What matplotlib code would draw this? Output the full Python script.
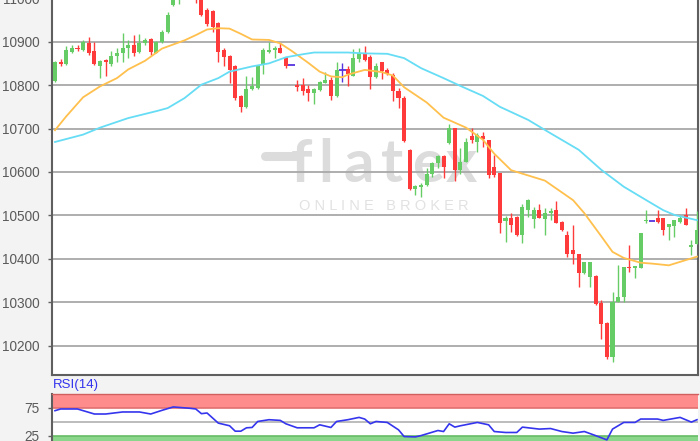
import matplotlib
matplotlib.use('Agg')
import matplotlib.pyplot as plt
from matplotlib.lines import Line2D
import numpy as np

# ---------------- data ----------------
opens = [10810, 10854, 10848, 10877, 10886, 10881, 10896, 10879, 10845, 10858,
         10848, 10866, 10873, 10885, 10892, 10877, 10898, 10905, 10875, 10900,
         10923, 10985, 11010, 11030, 11045, 11020, 11000, 10972, 10970, 10943,
         10881, 10866, 10843, 10776, 10750, 10790, 10793, 10847, 10877, 10881,
         10885, 10864, 10847, 10800, 10800, 10790, 10782, 10788, 10805, 10812,
         10774, 10834, 10837, 10821, 10860, 10873, 10864, 10818, 10854, 10835,
         10824, 10786, 10771, 10651, 10560, 10565, 10570, 10595, 10620, 10637,
         10666, 10701, 10605, 10622, 10682, 10670, 10682, 10674, 10612, 10597,
         10488, 10493, 10497, 10455, 10512, 10491, 10512, 10491, 10506, 10512,
         10485, 10455, 10420, 10411, 10368, 10358, 10360, 10298, 10252, 10175,
         10301, 10311, 10382, 10378, 10378, 10486, 10488, 10493, 10493, 10474,
         10475, 10485, 10501, 10428, 10435]
highs = [10856, 10860, 10889, 10892, 10892, 10904, 10910, 10900, 10858, 10860,
         10879, 10885, 10919, 10904, 10915, 10917, 10908, 10908, 10902, 10927,
         10969, 11025, 11040, 11060, 11060, 11030, 11005, 10977, 10974, 10946,
         10885, 10870, 10846, 10778, 10820, 10818, 10847, 10885, 10900, 10889,
         10896, 10864, 10847, 10812, 10816, 10801, 10793, 10809, 10829, 10818,
         10854, 10850, 10843, 10882, 10885, 10889, 10869, 10851, 10854, 10839,
         10827, 10793, 10775, 10653, 10570, 10574, 10608, 10622, 10639, 10639,
         10711, 10701, 10655, 10678, 10701, 10689, 10693, 10674, 10640, 10597,
         10498, 10506, 10498, 10526, 10537, 10520, 10526, 10518, 10518, 10532,
         10486, 10465, 10478, 10411, 10393, 10393, 10362, 10305, 10254, 10324,
         10385, 10382, 10432, 10384, 10459, 10512, 10488, 10512, 10493, 10481,
         10489, 10501, 10518, 10443, 10509]
lows = [10808, 10844, 10846, 10875, 10878, 10879, 10869, 10847, 10816, 10821,
        10843, 10854, 10854, 10862, 10866, 10875, 10892, 10869, 10873, 10898,
        10921, 10981, 10986, 11010, 11005, 10990, 10958, 10936, 10923, 10854,
        10843, 10805, 10766, 10737, 10747, 10788, 10790, 10826, 10873, 10862,
        10873, 10839, 10847, 10786, 10778, 10763, 10757, 10786, 10805, 10765,
        10772, 10808, 10798, 10821, 10854, 10856, 10790, 10816, 10813, 10824,
        10763, 10747, 10670, 10559, 10547, 10542, 10568, 10588, 10608, 10585,
        10665, 10580, 10595, 10622, 10666, 10647, 10658, 10585, 10589, 10460,
        10439, 10462, 10452, 10437, 10497, 10472, 10493, 10455, 10489, 10482,
        10465, 10405, 10389, 10335, 10365, 10334, 10293, 10216, 10170, 10162,
        10301, 10301, 10370, 10355, 10378, 10482, 10488, 10482, 10455, 10443,
        10451, 10482, 10478, 10409, 10435]
closes = [10854, 10849, 10881, 10886, 10883, 10900, 10875, 10849, 10856, 10852,
          10867, 10875, 10886, 10892, 10875, 10898, 10904, 10877, 10900, 10923,
          10961, 11015, 11030, 11045, 11020, 10995, 10961, 10940, 10934, 10877,
          10864, 10835, 10770, 10750, 10791, 10797, 10847, 10881, 10881, 10886,
          10875, 10843, 10847, 10795, 10786, 10782, 10791, 10806, 10812, 10774,
          10835, 10834, 10826, 10862, 10873, 10858, 10818, 10843, 10832, 10826,
          10786, 10770, 10672, 10560, 10567, 10570, 10595, 10620, 10637, 10612,
          10701, 10605, 10624, 10670, 10674, 10685, 10676, 10593, 10593, 10483,
          10493, 10478, 10455, 10520, 10535, 10512, 10493, 10506, 10510, 10483,
          10466, 10412, 10411, 10368, 10393, 10392, 10297, 10251, 10175, 10301,
          10312, 10382, 10379, 10383, 10459, 10490, 10488, 10485, 10466, 10481,
          10489, 10493, 10478, 10431, 10466]

ma_short_idx = [0, 2, 5, 8, 11, 13, 16, 19, 23, 25, 27, 29, 31, 33, 35, 38, 40, 42,
                45, 47, 49, 51, 52, 55, 58, 60, 62, 66, 69, 73, 76, 78, 81, 84, 87,
                89, 92, 94, 97, 99, 101, 104, 106, 109, 111, 114]
ma_short_val = [10696, 10728, 10772, 10797, 10816, 10836, 10856, 10884, 10903, 10915,
                10928, 10931, 10930, 10918, 10905, 10904, 10896, 10879, 10851, 10831,
                10820, 10818, 10824, 10835, 10830, 10822, 10795, 10760, 10725, 10702,
                10674, 10642, 10604, 10592, 10580, 10562, 10535, 10505, 10452, 10416,
                10402, 10391, 10389, 10385, 10393, 10405]

ma_long_idx = [0, 5, 8, 13, 18, 20, 23, 26, 29, 31, 35, 38, 41, 44, 46, 52, 55, 59,
               62, 65, 69, 72, 76, 79, 84, 88, 93, 97, 101, 105, 108, 110, 114]
ma_long_val = [10669, 10686, 10702, 10724, 10740, 10747, 10770, 10801, 10816, 10831,
               10843, 10850, 10864, 10871, 10875, 10875, 10873, 10872, 10862, 10839,
               10816, 10798, 10775, 10750, 10720, 10689, 10651, 10605, 10566, 10535,
               10512, 10501, 10489]

rsi_idx = [0, 1, 4, 7, 9, 12, 15, 17, 19, 21, 24, 25, 26, 27, 29, 31, 32, 33, 34, 35,
           36, 38, 40, 41, 43, 46, 47, 49, 50, 52, 54, 55, 56, 57, 59, 61, 62, 64, 65,
           68, 69, 70, 71, 72, 75, 77, 78, 80, 82, 83, 86, 88, 90, 92, 94, 96, 98, 99,
           100, 101, 103, 104, 107, 108, 111, 113, 114]
rsi_val = [69.6, 72.6, 72.6, 63.7, 63.7, 67.3, 67.3, 63.7, 70.2, 76.2, 73.8, 72.6, 64.3,
           65.5, 47.6, 42.9, 33.3, 33.3, 39.3, 39.9, 50.5, 53.6, 52.4, 46.4, 39.3, 39.3,
           44.6, 39.9, 50.5, 53.6, 57.7, 54.8, 46.4, 50.5, 48.8, 35.7, 23.8, 23.2, 25.5,
           34.5, 32.7, 46.4, 40.5, 42.9, 48.8, 44.6, 32.7, 31.0, 31.0, 40.5, 37.0, 38.0,
           32.7, 29.8, 32.7, 25.5, 17.9, 37.0, 42.9, 48.8, 48.8, 54.8, 54.8, 52.4, 57.7,
           49.4, 53.6]

price_ticks = [10200, 10300, 10400, 10500, 10600, 10700, 10800, 10900, 11000]
rsi_ticks = [25, 75]

# ---------------- figure ----------------
W, H = 700, 441
fig = plt.figure(figsize=(W / 100, H / 100), dpi=100)
fig.patch.set_facecolor('#f3f3f3')

def fx(px):
    return px / W

def fy(py):
    return 1 - py / H

font = ['Liberation Sans', 'DejaVu Sans']
lab_col = '#5a5a5a'
grid_col = '#a8a8a8'
spine_col = '#5f5f5f'

# main axes: px left 52, right 698, bottom 375, top -23.5
ax = fig.add_axes([fx(52), fy(375), fx(698) - fx(52), fy(-23.5) - fy(375)])
ax.set_facecolor('white')
ax.set_ylim(10132.5, 11050)
n = len(opens)
ax.set_xlim(-0.53, n - 1 + 0.18)

for t in price_ticks:
    ax.axhline(t, color=grid_col, lw=1.3, zorder=2)

# watermark (flatex logo), drawn inside the axes beneath grid and candles
wm = '#dcdcdc'
ax.add_line(Line2D([fx(265), fx(296)], [fy(156), fy(156)], color=wm, lw=6.5,
                   solid_capstyle='round', transform=fig.transFigure, zorder=1))
for ch, px in zip('flatex', [301, 326, 359, 392, 428, 461]):
    ax.text(fx(px), fy(182), ch, fontsize=43, color=wm, ha='center', va='baseline',
            family=['Lato', 'DejaVu Sans'], fontweight='bold', zorder=1,
            transform=fig.transFigure)
ax.text(fx(384), fy(206), 'O N L I N E   B R O K E R', fontsize=10.5, color='#e2e2e2',
        ha='center', va='center', family=font, zorder=1, transform=fig.transFigure)

x = np.arange(n)
o = np.array(opens, float)
c = np.array(closes, float)
hi = np.array(highs, float)
lo = np.array(lows, float)
green = '#66cc66'
red = '#ff3a3a'
doji = '#5533dd'
cols = np.where(c > o, green, np.where(c < o, red, doji))
body_w = 0.72
ax.vlines(x, lo, hi, colors=cols, lw=1.0, zorder=3)
isdoji = c == o
bx = x[~isdoji]
ax.bar(bx, np.abs(c - o)[~isdoji], bottom=np.minimum(o, c)[~isdoji], width=body_w,
       color=cols[~isdoji], linewidth=0, zorder=4)
ax.hlines(o[isdoji], x[isdoji] - 0.6, x[isdoji] + 0.6, colors=doji, lw=1.3, zorder=4)

ax.plot(ma_short_idx, ma_short_val, color='#ffc04d', lw=1.3, zorder=5)
ax.plot(ma_long_idx, ma_long_val, color='#66ddf5', lw=1.3, zorder=5)

ax.set_yticks(price_ticks)
ax.set_yticklabels([str(t) for t in price_ticks])
ax.set_xticks([])
ax.tick_params(axis='y', length=3, width=1, color=spine_col, labelcolor=lab_col,
               labelsize=9.8, pad=6)
for lbl in ax.get_yticklabels():
    lbl.set_family(font)
for s in ['left', 'bottom', 'right']:
    ax.spines[s].set_color(spine_col)
    ax.spines[s].set_linewidth(1.5)
ax.spines['top'].set_visible(False)

# RSI axes: px top 393.5, 0 at 450
rax = fig.add_axes([fx(52), fy(450), fx(698) - fx(52), fy(393.5) - fy(450)])
rax.set_facecolor('white')
rax.set_ylim(0, 100)
rax.set_xlim(-0.53, n - 1 + 0.18)
rax.axhspan(75, 100, color='#ff8c8c', lw=0, zorder=1)
rax.axhspan(0, 25, color='#8ad68a', lw=0, zorder=1)
rax.axhline(75, color='#e07070', lw=1.2, zorder=2)
rax.axhline(25, color='#66bb66', lw=1.2, zorder=2)
rax.axhline(50, color='#b0b0b0', lw=1.2, zorder=2)
rax.plot(rsi_idx, rsi_val, color='#3535ee', lw=1.2, zorder=3)
rax.set_yticks(rsi_ticks)
rax.set_yticklabels([str(t) for t in rsi_ticks])
rax.set_xticks([])
rax.tick_params(axis='y', length=3, width=1, color=spine_col, labelcolor=lab_col,
                labelsize=9.8, pad=6)
for lbl in rax.get_yticklabels():
    lbl.set_family(font)
rax.spines['left'].set_color(spine_col)
rax.spines['left'].set_linewidth(1.5)
rax.spines['top'].set_color('#d06060')
rax.spines['top'].set_linewidth(1.0)
rax.spines['right'].set_visible(False)
rax.spines['bottom'].set_visible(False)

fig.text(fx(53), fy(385), 'RSI(14)', color='#3333ee', fontsize=9.5, family=font,
         ha='left', va='center')

fig.savefig('out.png', dpi=100, facecolor=fig.get_facecolor())
